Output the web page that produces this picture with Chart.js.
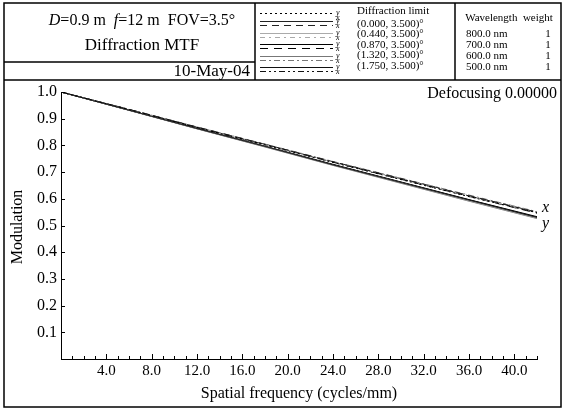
<!DOCTYPE html>
<html>
<head>
<meta charset="utf-8">
<script src="https://cdn.jsdelivr.net/npm/chart.js@4.4.0/dist/chart.umd.min.js"></script>
<style>
  html, body { margin: 0; padding: 0; background: #fff; }
  #wrap { width: 565px; height: 410px; }
</style>
</head>
<body>
<div id="wrap"><canvas id="mtf" width="565" height="410"></canvas></div>
<script>
// spatial frequency samples (cycles/mm)
const freq = [0, 6, 12, 18, 24, 30, 36, 42];

// diffraction limit
const diffLimit = [1, 0.934, 0.867, 0.802, 0.736, 0.672, 0.608, 0.548];

// field points, y (tangential, solid) and x (sagittal, dashed)
const f1Y = [1, 0.932, 0.863, 0.796, 0.727, 0.661, 0.595, 0.530];
const f1X = [1, 0.935, 0.869, 0.804, 0.739, 0.676, 0.612, 0.550];
const f2Y = [1, 0.932, 0.862, 0.795, 0.726, 0.660, 0.593, 0.528];
const f2X = [1, 0.934, 0.868, 0.803, 0.738, 0.674, 0.610, 0.548];
const f3Y = [1, 0.932, 0.864, 0.797, 0.729, 0.663, 0.597, 0.533];
const f3X = [1, 0.934, 0.867, 0.803, 0.737, 0.673, 0.609, 0.546];
const f4Y = [1, 0.931, 0.862, 0.794, 0.725, 0.658, 0.591, 0.526];
const f4X = [1, 0.935, 0.869, 0.805, 0.740, 0.677, 0.614, 0.552];
const f5Y = [1, 0.932, 0.863, 0.796, 0.728, 0.662, 0.596, 0.531];
const f5X = [1, 0.935, 0.868, 0.804, 0.738, 0.675, 0.611, 0.549];

const fieldLabels = ['(0.000, 3.500)°', '(0.440, 3.500)°', '(0.870, 3.500)°', '(1.320, 3.500)°', '(1.750, 3.500)°'];
const wavelengths = ['800.0 nm', '700.0 nm', '600.0 nm', '500.0 nm'];
const weights = ['1', '1', '1', '1'];

// line styles per field: colour, dash for x
const fieldColors = ['#222', '#aaa', '#000', '#777', '#111'];
const fieldDashes = [[7, 5], [5, 4, 2, 4], [8, 6], [6, 3, 2, 3], [6, 3, 2, 3, 2, 3]];

const serif = '"Liberation Serif", "Times New Roman", serif';

function pts(ys) {
  return freq.map((f, i) => ({ x: f, y: ys[i] }));
}

const ySeries = [f1Y, f2Y, f3Y, f4Y, f5Y];
const xSeries = [f1X, f2X, f3X, f4X, f5X];

const datasets = [{
  label: 'Diffraction limit',
  data: pts(diffLimit),
  borderColor: '#000',
  borderWidth: 1,
  borderDash: [2, 3],
  pointRadius: 0
}];
ySeries.forEach((s, i) => {
  datasets.push({ label: fieldLabels[i] + ' y', data: pts(s), borderColor: fieldColors[i], borderWidth: 1, pointRadius: 0 });
  datasets.push({ label: fieldLabels[i] + ' x', data: pts(xSeries[i]), borderColor: fieldColors[i], borderWidth: 1, borderDash: fieldDashes[i], pointRadius: 0 });
});

function line(ctx, x1, y1, x2, y2) {
  ctx.beginPath();
  ctx.moveTo(x1, y1);
  ctx.lineTo(x2, y2);
  ctx.stroke();
}

const decor = {
  id: 'decor',
  beforeDraw(chart) {
    const ctx = chart.ctx;
    ctx.save();
    ctx.fillStyle = '#fff';
    ctx.fillRect(0, 0, chart.width, chart.height);
    ctx.restore();
  },
  afterDraw(chart) {
    const ctx = chart.ctx;
    const xs = chart.scales.x, ys = chart.scales.y;
    const area = chart.chartArea;
    ctx.save();
    ctx.strokeStyle = '#000';
    ctx.fillStyle = '#000';

    // frames
    ctx.lineWidth = 1.5;
    ctx.strokeRect(4, 3, 557, 404);
    line(ctx, 4, 80, 561, 80);
    line(ctx, 255, 3, 255, 80);
    line(ctx, 455, 3, 455, 80);
    line(ctx, 4, 62, 255, 62);

    // tick marks pointing inwards
    ctx.lineWidth = 1;
    for (let v = 1; v <= 42; v++) {
      const px = Math.round(xs.getPixelForValue(v)) + 0.5;
      line(ctx, px, area.bottom, px, area.bottom - (v % 4 === 0 ? 5 : 3));
    }
    for (let v = 1; v <= 10; v++) {
      const py = Math.round(ys.getPixelForValue(v / 10)) + 0.5;
      line(ctx, area.left, py, area.left + 4, py);
    }

    // title block
    ctx.textBaseline = 'middle';
    const parts = [['D', true], ['=0.9 m  ', false], ['f', true], ['=12 m  FOV=3.5°', false]];
    let total = 0;
    parts.forEach(p => {
      ctx.font = (p[1] ? 'italic ' : '') + '16px ' + serif;
      total += ctx.measureText(p[0]).width;
    });
    let tx = 142 - total / 2;
    parts.forEach(p => {
      ctx.font = (p[1] ? 'italic ' : '') + '16px ' + serif;
      ctx.textAlign = 'left';
      ctx.fillText(p[0], tx, 21);
      tx += ctx.measureText(p[0]).width;
    });
    ctx.font = '17px ' + serif;
    ctx.textAlign = 'center';
    ctx.fillText('Diffraction MTF', 142, 46);
    ctx.textAlign = 'right';
    ctx.fillText('10-May-04', 250, 72);

    // legend samples
    const lx1 = 260, lx2 = 333;
    ctx.setLineDash([2, 3]);
    line(ctx, lx1, 13.5, lx2, 13.5);
    ctx.font = 'italic 8px ' + serif;
    ctx.textAlign = 'left';
    ctx.fillText('y', 336, 13);
    ctx.fillText('x', 336, 18);
    for (let i = 0; i < 5; i++) {
      const yy = 21 + i * 11.5;
      ctx.strokeStyle = fieldColors[i];
      ctx.setLineDash([]);
      line(ctx, lx1, Math.round(yy) + 0.5, lx2, Math.round(yy) + 0.5);
      ctx.setLineDash(fieldDashes[i]);
      line(ctx, lx1, Math.round(yy) + 4.5, lx2, Math.round(yy) + 4.5);
      ctx.fillStyle = '#000';
      ctx.fillText('y', 336, yy);
      ctx.fillText('x', 336, yy + 5);
    }
    ctx.setLineDash([]);
    ctx.strokeStyle = '#000';
    ctx.font = '11px ' + serif;
    ctx.fillText('Diffraction limit', 357, 11);
    fieldLabels.forEach((t, i) => ctx.fillText(t, 357, 24 + i * 10.5));

    // wavelengths
    ctx.font = '11px ' + serif;
    ctx.textAlign = 'center';
    ctx.fillText('Wavelength  weight', 509, 18);
    wavelengths.forEach((w, i) => {
      ctx.textAlign = 'left';
      ctx.fillText(w, 466, 34 + i * 11);
      ctx.textAlign = 'center';
      ctx.fillText(weights[i], 548, 34 + i * 11);
    });

    // plot texts
    ctx.font = '16px ' + serif;
    ctx.textAlign = 'right';
    ctx.fillText('Defocusing 0.00000', 557, 94);
    ctx.textAlign = 'center';
    ctx.fillText('Spatial frequency (cycles/mm)', 299, 394);
    ctx.save();
    ctx.translate(18, 227);
    ctx.rotate(-Math.PI / 2);
    ctx.fillText('Modulation', 0, 0);
    ctx.restore();

    ctx.font = 'italic 16px ' + serif;
    ctx.textAlign = 'left';
    const ex = xs.getPixelForValue(42) + 5;
    ctx.fillText('x', ex, ys.getPixelForValue(0.567));
    ctx.fillText('y', ex, ys.getPixelForValue(0.505));
    ctx.restore();
  }
};

new Chart(document.getElementById('mtf'), {
  type: 'line',
  data: { datasets: datasets },
  options: {
    responsive: false,
    animation: false,
    devicePixelRatio: 1,
    layout: { padding: { left: 5, right: 28, top: 92, bottom: 0 } },
    plugins: { legend: { display: false }, tooltip: { enabled: false } },
    elements: { line: { tension: 0 } },
    scales: {
      x: {
        type: 'linear',
        min: 0,
        max: 42,
        grid: { display: false, drawTicks: false },
        border: { display: true, color: '#000', width: 1 },
        afterFit: s => { s.height = 51; },
        ticks: {
          stepSize: 1,
          autoSkip: false,
          maxRotation: 0,
          padding: 3,
          color: '#000',
          font: { family: serif, size: 15 },
          callback: v => (v > 0 && v % 4 === 0) ? v.toFixed(1) : ''
        }
      },
      y: {
        min: 0,
        max: 1,
        grid: { display: false, drawTicks: false },
        border: { display: true, color: '#000', width: 1 },
        afterFit: s => { s.width = 56; },
        ticks: {
          stepSize: 0.1,
          padding: 4,
          color: '#000',
          font: { family: serif, size: 16 },
          callback: v => v > 0.01 ? v.toFixed(1) : ''
        }
      }
    }
  },
  plugins: [decor]
});
</script>
</body>
</html>
